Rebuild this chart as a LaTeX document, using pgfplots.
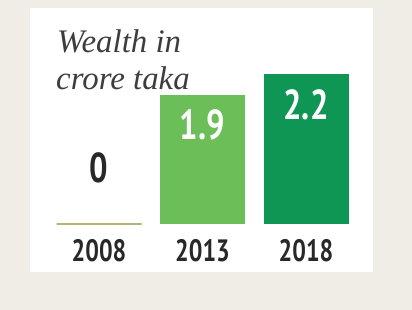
\documentclass[border=0pt]{standalone}
\usepackage{pgfplots}
\pgfplotsset{compat=1.18}
\usepackage{fontspec}
\setmainfont{PT Sans}
\newfontfamily\titlefont{Liberation Serif}
\newfontfamily\numfont[FakeStretch=0.78]{PT Sans}
\definecolor{bg}{HTML}{EFEDE6}
\definecolor{lightgreen}{HTML}{6BBE58}
\definecolor{darkgreen}{HTML}{0F9654}
\definecolor{olive}{HTML}{B8B27A}
\definecolor{txt}{HTML}{282828}
\begin{document}
\begin{tikzpicture}
\fill[bg] (0bp,0bp) rectangle (412bp,310bp);
\fill[white] (30bp,38bp) rectangle (373bp,302bp);
\node[anchor=base west, font=\titlefont\itshape\fontsize{33}{38}\selectfont, text=txt!90!white, inner sep=0pt] at (57bp,257bp) {Wealth in};
\node[anchor=base west, font=\titlefont\itshape\fontsize{33}{38}\selectfont, text=txt!90!white, inner sep=0pt] at (56bp,220bp) {crore taka};
\begin{axis}[
  at={(47.25bp,86bp)}, anchor=south west,
  scale only axis, width=310.5bp, height=204bp,
  xmin=-0.5, xmax=2.5, ymin=0, ymax=3,
  axis line style={draw=none},
  ytick=\empty,
  xtick={0,1,2}, xticklabels={2008,2013,2018},
  major tick length=0pt,
  xticklabel style={font=\numfont\bfseries\fontsize{31}{31}\selectfont, text=txt, anchor=base, yshift=-38bp},
  ybar, bar width=85bp,
  clip=false,
]
\addplot[bar shift=0pt, draw=olive, fill=none, line width=1.3bp] coordinates {(0,0)};
\addplot[bar shift=0pt, draw=none, fill=lightgreen] coordinates {(1,1.9)};
\addplot[bar shift=0pt, draw=none, fill=darkgreen] coordinates {(2,2.2)};
\node[anchor=base, yshift=41bp, font=\numfont\bfseries\fontsize{42}{42}\selectfont, text=txt] at (axis cs:0,0) {0};
\node[anchor=base, yshift=-45bp, font=\numfont\bfseries\fontsize{42}{42}\selectfont, text=white] at (axis cs:1,1.9) {1.9};
\node[anchor=base, yshift=-45bp, font=\numfont\bfseries\fontsize{42}{42}\selectfont, text=white] at (axis cs:2,2.2) {2.2};
\end{axis}
\end{tikzpicture}
\end{document}
